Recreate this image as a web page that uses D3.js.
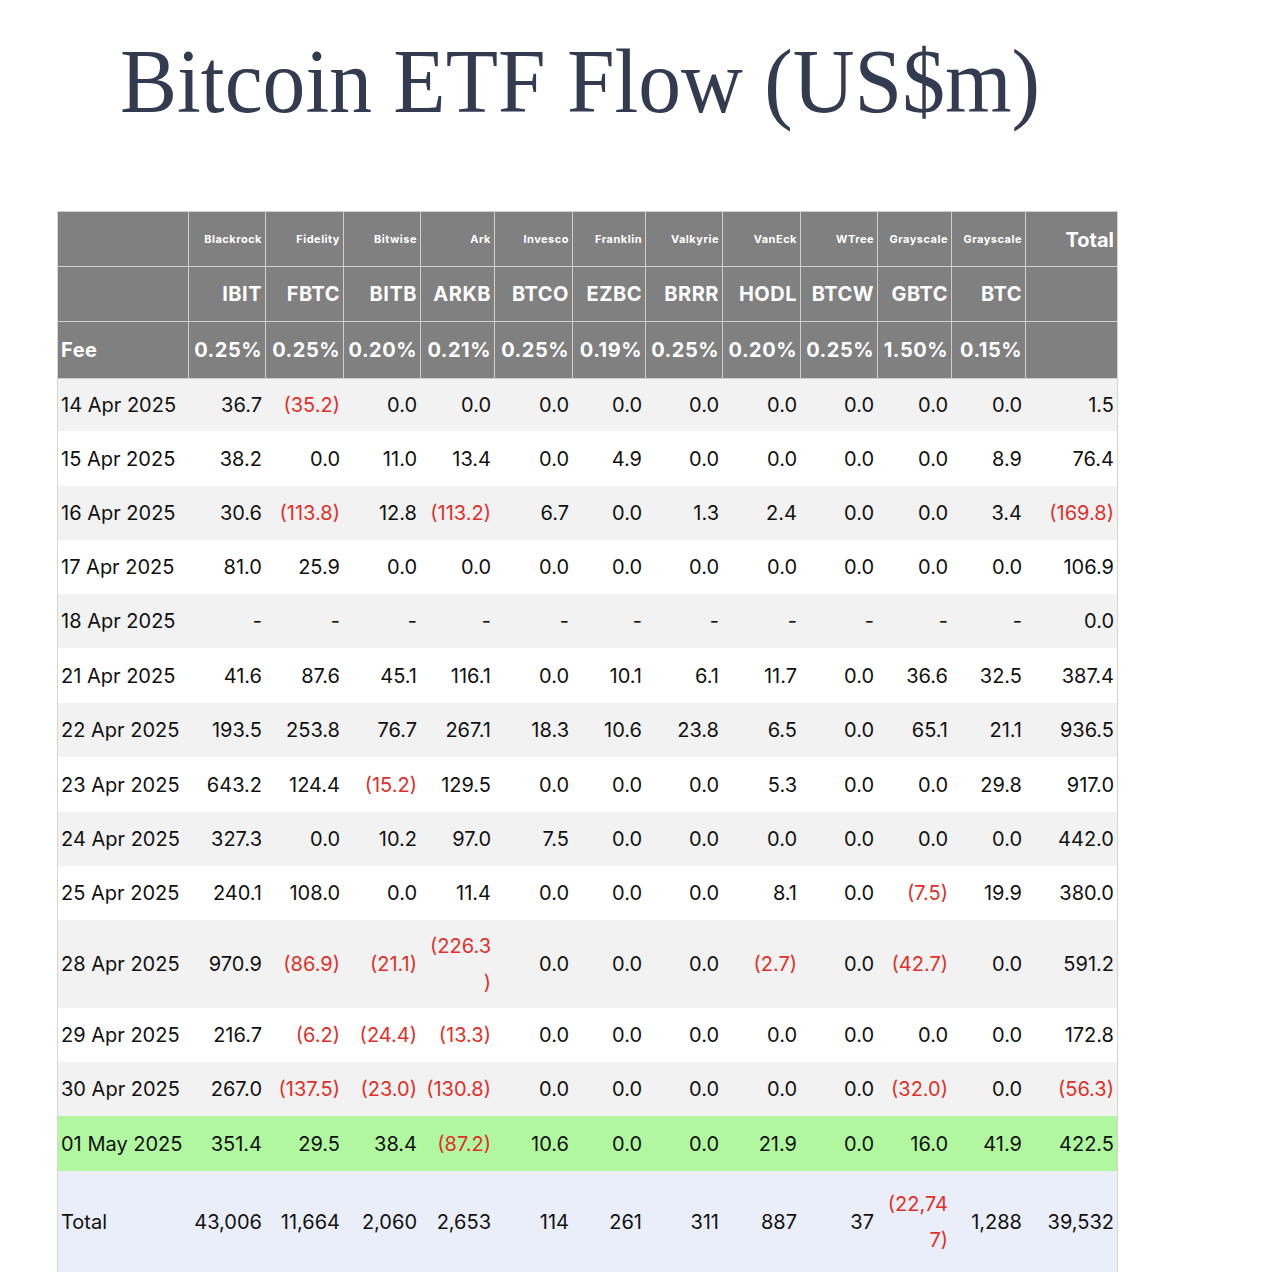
<!DOCTYPE html>
<html><head><meta charset="utf-8">
<script src="https://cdn.jsdelivr.net/npm/d3@7"></script>
<style>body{margin:0;background:#fff}</style>
</head><body>
<svg id="c" width="1274" height="1272"></svg>
<script>
const issuers = ["Blackrock","Fidelity","Bitwise","Ark","Invesco","Franklin","Valkyrie","VanEck","WTree","Grayscale","Grayscale"];
const tickers = ["IBIT","FBTC","BITB","ARKB","BTCO","EZBC","BRRR","HODL","BTCW","GBTC","BTC"];
const fees = ["0.25%","0.25%","0.20%","0.21%","0.25%","0.19%","0.25%","0.20%","0.25%","1.50%","0.15%"];
const dates = ["14 Apr 2025","15 Apr 2025","16 Apr 2025","17 Apr 2025","18 Apr 2025","21 Apr 2025","22 Apr 2025","23 Apr 2025","24 Apr 2025","25 Apr 2025","28 Apr 2025","29 Apr 2025","30 Apr 2025","01 May 2025"];
const flows = [
 [36.7,-35.2,0,0,0,0,0,0,0,0,0],
 [38.2,0,11.0,13.4,0,4.9,0,0,0,0,8.9],
 [30.6,-113.8,12.8,-113.2,6.7,0,1.3,2.4,0,0,3.4],
 [81.0,25.9,0,0,0,0,0,0,0,0,0],
 [null,null,null,null,null,null,null,null,null,null,null],
 [41.6,87.6,45.1,116.1,0,10.1,6.1,11.7,0,36.6,32.5],
 [193.5,253.8,76.7,267.1,18.3,10.6,23.8,6.5,0,65.1,21.1],
 [643.2,124.4,-15.2,129.5,0,0,0,5.3,0,0,29.8],
 [327.3,0,10.2,97.0,7.5,0,0,0,0,0,0],
 [240.1,108.0,0,11.4,0,0,0,8.1,0,-7.5,19.9],
 [970.9,-86.9,-21.1,-226.3,0,0,0,-2.7,0,-42.7,0],
 [216.7,-6.2,-24.4,-13.3,0,0,0,0,0,0,0],
 [267.0,-137.5,-23.0,-130.8,0,0,0,0,0,-32.0,0],
 [351.4,29.5,38.4,-87.2,10.6,0,0,21.9,0,16.0,41.9]
];
const rowTotals = [1.5,76.4,-169.8,106.9,0.0,387.4,936.5,917.0,442.0,380.0,591.2,172.8,-56.3,422.5];
const colTotals = [43006,11664,2060,2653,114,261,311,887,37,-22747,1288];
const grandTotal = 39532;

const svg = d3.select("#c");
const FONT = "Inter, 'Noto Sans', 'Liberation Sans', sans-serif";
const colEdges = [57,188,265,343,420,494,572,645,722,800,877,951,1025,1117];
const rowH = [55,55,57,53,55,54,54,54,55,54,54,55,54,54,54,88,54,54,55,101];
// header rows 3, data rows 14, total 1 -> compute
const heights = [55,55,57].concat([53,55,54,54,54,55,54,55,54,54,88,54,54,55]).concat([101]);
const yEdges = [211]; heights.forEach(h=>yEdges.push(yEdges[yEdges.length-1]+h));
const x = i => colEdges[i];

svg.append("text").attr("x",580).attr("y",112).attr("text-anchor","middle")
 .attr("font-family","'Liberation Serif','DejaVu Serif',serif").attr("font-size",90)
 .attr("fill","#343a4f").attr("textLength",920).attr("lengthAdjust","spacingAndGlyphs")
 .text("Bitcoin ETF Flow (US$m)");

// backgrounds
const bgColor = r => r<3 ? "#808080" : r===16 ? "#b0f7a0" : r===17 ? "#eaeef8" : ((r-3)%2===0 ? "#f2f2f2" : "#ffffff");
svg.selectAll("rect.bg").data(d3.range(heights.length)).join("rect")
 .attr("x",57).attr("y",r=>yEdges[r]).attr("width",1117-57).attr("height",r=>heights[r]).attr("fill",bgColor);
// header grid lines
const g = svg.append("g").attr("stroke","#cfcfcf").attr("stroke-width",1);
colEdges.forEach(cx=>g.append("line").attr("x1",cx+0.5).attr("x2",cx+0.5).attr("y1",211).attr("y2",yEdges[3]));
[211,yEdges[1],yEdges[2],yEdges[3]].forEach(yy=>g.append("line").attr("x1",57).attr("x2",1117).attr("y1",yy+0.5).attr("y2",yy+0.5));
svg.append("line").attr("x1",57.5).attr("x2",57.5).attr("y1",211).attr("y2",1272).attr("stroke","#d8d4cf");
svg.append("line").attr("x1",1117.5).attr("x2",1117.5).attr("y1",211).attr("y2",1272).attr("stroke","#d8d4cf");

function cell(col,row,txt,opts={}){
  const right = colEdges[col+1]-3;
  const cy = (yEdges[row]+yEdges[row+1])/2;
  const t = svg.append("text").attr("font-family",FONT).attr("font-size",opts.size||20)
   .attr("font-weight",opts.bold?"bold":null).attr("fill",opts.color||"#111")
   .attr("letter-spacing",opts.ls||null);
  if(opts.left){ t.attr("x",colEdges[col]+4).attr("text-anchor","start"); }
  else t.attr("x",right).attr("text-anchor","end");
  t.attr("y",(opts.y!=null?opts.y:cy)).attr("dominant-baseline","central").text(txt);
  // wrap if too wide
  const avail = colEdges[col+1]-colEdges[col]-6;
  if(!opts.left && t.node().getComputedTextLength()>avail && txt.length>1){
    let k=txt.length-1;
    t.text(txt.slice(0,k));
    while(t.node().getComputedTextLength()>avail && k>1){k--; t.text(txt.slice(0,k));}
    t.attr("y",cy-18);
    const t2 = svg.append("text").attr("font-family",FONT).attr("font-size",opts.size||20)
      .attr("fill",opts.color||"#111").attr("x",right).attr("text-anchor","end")
      .attr("y",cy+18).attr("dominant-baseline","central").text(txt.slice(k));
  }
}
const fmt1 = d3.format(".1f"), fmt0 = d3.format(",.0f");
function show(v,f){ if(v==null) return ["-","#111"]; return v<0?["("+f(-v)+")","#e0302a"]:[f(v),"#111"]; }

issuers.forEach((s,i)=>cell(i+1,0,s,{size:11,bold:true,color:"#fff",ls:0.5}));
cell(12,0,"Total",{bold:true,color:"#fff",y:240});
tickers.forEach((s,i)=>cell(i+1,1,s,{bold:true,color:"#fff",ls:0.5}));
cell(0,2,"Fee",{left:true,bold:true,color:"#fff",ls:0.5});
fees.forEach((s,i)=>cell(i+1,2,s,{bold:true,color:"#fff",ls:0.5}));

dates.forEach((d,r)=>{
  cell(0,r+3,d,{left:true});
  flows[r].forEach((v,c)=>{const [t,col]=show(v,fmt1); cell(c+1,r+3,t,{color:col});});
  const [t,col]=show(rowTotals[r],fmt1); cell(12,r+3,t,{color:col});
});
cell(0,17,"Total",{left:true});
colTotals.forEach((v,c)=>{const [t,col]=show(v,fmt0); cell(c+1,17,t,{color:col});});
{const [t,col]=show(grandTotal,fmt0); cell(12,17,t,{color:col});}
</script>
</body></html>
